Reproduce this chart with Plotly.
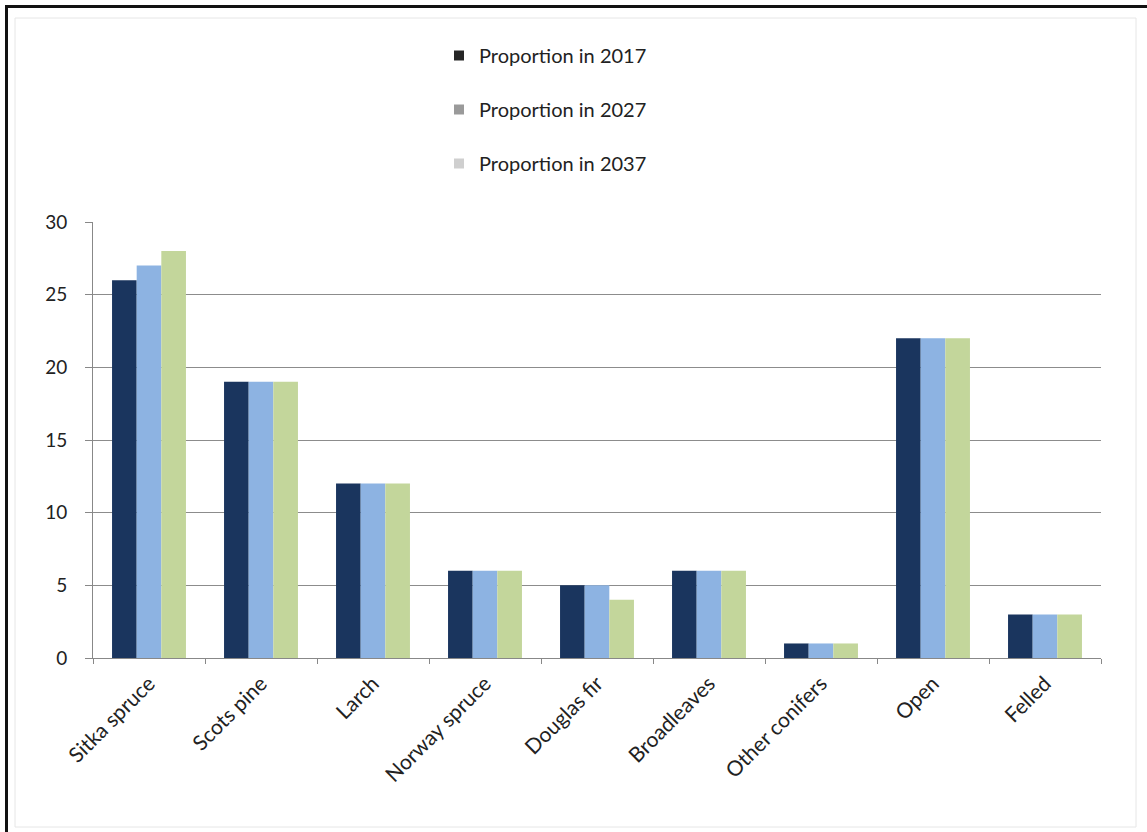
import plotly.graph_objects as go

categories = ["Sitka spruce", "Scots pine", "Larch", "Norway spruce", "Douglas fir",
              "Broadleaves", "Other conifers", "Open", "Felled"]
series_names = ["Proportion in 2017", "Proportion in 2027", "Proportion in 2037"]
p2017 = [26, 19, 12, 6, 5, 6, 1, 22, 3]
p2027 = [27, 19, 12, 6, 5, 6, 1, 22, 3]
p2037 = [28, 19, 12, 6, 4, 6, 1, 22, 3]
y_ticks = [0, 5, 10, 15, 20, 25, 30]

bar_colors = ["#1a355e", "#8db3e2", "#c3d69b"]
legend_colors = ["#262626", "#9a9a9a", "#cfcfcf"]

W, H = 1147, 832
L, R, T, B = 93, 1101, 222, 658
pw, ph = R - L, B - T

def px_x(x):
    return (x - L) / pw

def px_y(y):
    return (B - y) / ph

fig = go.Figure()
for name, vals, col in zip(series_names, [p2017, p2027, p2037], bar_colors):
    fig.add_trace(go.Bar(x=categories, y=vals, name=name, marker_color=col,
                         marker_line_width=0, showlegend=False))
for i, (name, col) in enumerate(zip(series_names, legend_colors)):
    fig.add_trace(go.Scatter(x=[None], y=[None], mode="markers", name=name,
                             legendgroup=f"g{i}",
                             marker=dict(symbol="square", size=10, color=col)))

font_family = "Lato, 'Open Sans', sans-serif"
fig.update_layout(
    width=W, height=H,
    margin=dict(l=L, r=W - R, t=T, b=H - B, autoexpand=False),
    paper_bgcolor="white", plot_bgcolor="white",
    barmode="group", bargap=0.34, bargroupgap=0,
    font=dict(family=font_family, size=16, color="#222"),
    legend=dict(x=px_x(439), y=px_y(36), xanchor="left", yanchor="top",
                orientation="v", tracegroupgap=25,
                font=dict(size=20, color="#222"), bgcolor="rgba(0,0,0,0)",
                itemwidth=30),
    xaxis=dict(showgrid=False, showline=True, linecolor="#888", linewidth=1,
               ticks="outside", ticklen=5, tickcolor="#888",
               tickson="boundaries", tickangle=-45, ticklabelstandoff=4,
               tickfont=dict(size=21, color="#222")),
    yaxis=dict(range=[0, 30], tickvals=y_ticks, showgrid=True, gridcolor="#8c8c8c",
               gridwidth=1, showline=True, linecolor="#888", linewidth=1,
               ticks="outside", ticklen=7, tickcolor="#888", zeroline=False,
               ticklabelstandoff=14,
               tickfont=dict(size=19, color="#222")),
    shapes=[
        dict(type="rect", xref="paper", yref="paper",
             x0=px_x(15), x1=px_x(1136), y0=px_y(827), y1=px_y(18),
             line=dict(color="#e6e6e6", width=1), layer="below"),
        dict(type="line", xref="paper", yref="paper",
             x0=px_x(6.5), x1=px_x(6.5), y0=px_y(5), y1=px_y(832),
             line=dict(color="#111", width=3)),
        dict(type="line", xref="paper", yref="paper",
             x0=px_x(5), x1=px_x(1147), y0=px_y(6.5), y1=px_y(6.5),
             line=dict(color="#111", width=3)),
    ],
)

fig.write_html("out.html")
